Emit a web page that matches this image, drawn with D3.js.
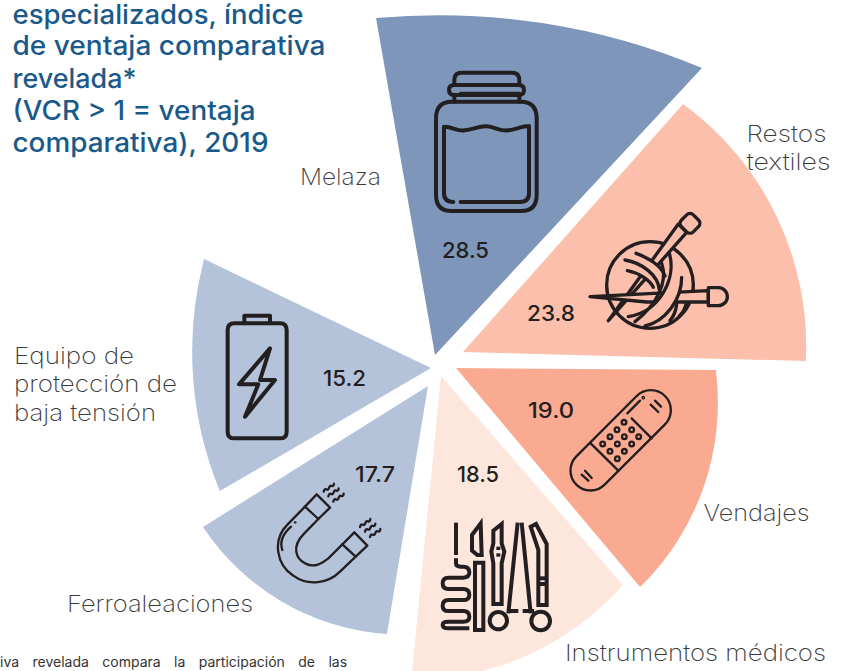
<!DOCTYPE html>
<html><head><meta charset="utf-8">
<script src="https://cdnjs.cloudflare.com/ajax/libs/d3/7.8.5/d3.min.js"></script>
<style>html,body{margin:0;padding:0;background:#fff;overflow:hidden}svg{display:block}text{font-family:Inter,"Open Sans",sans-serif}</style>
</head><body><svg id="c" width="843" height="671"></svg>
<script>
// ---- data ----
const categories = ["Melaza","Restos\ntextiles","Vendajes","Instrumentos médicos","Ferroaleaciones","Equipo de\nprotección de\nbaja tensión"];
const values = [28.5,23.8,19.0,18.5,17.7,15.2];
const titleLines = ["especializados, índice","de ventaja comparativa","revelada*","(VCR > 1 = ventaja","comparativa), 2019"];
const footnote = "iva revelada compara la participación de las";
const colors = ["#7d96ba","#fbbfab","#f9aa91","#fde6dc","#b4c2da","#b4c2da"];

// ---- layout (not data) ----
const apex = [[435,355],[463,352],[456,368],[441,376],[428,386],[431,368]];
const bearings = [[-9.93,42.93],[41.6,91.5],[90.44,139.97],[138.95,185.6],[189.4,237.93],[239.76,295.65]];
const edgeK = [[1.0,1.146],[1.161,1.201],[1.14,1.255],[1.248,1.374],[1.184,1.25],[1.34,1.38]];
const bendR = [680,300,258,280,240,365];
const labelPos = [[[300,185,81]],[[746.5,142,80],[746.5,170,84]],[[703.5,521,106]],[[565,661,261]],[[67,612,186]],[[14,364,120],[14,392,163],[14,421,142]]];
const valuePos = [[465.5,258],[551,321],[551,418],[478,482],[375,482],[344.5,386]];
const valueW = [47,48,46,42,40,43];

const svg = d3.select("#c");
const r = d3.scaleLinear().domain([0,28.5]).range([0,342]);
const rad = d3.scaleLinear().domain([0,180]).range([0,Math.PI]);

function wedge(i){
  const [ax,ay]=apex[i], R=r(values[i]);
  const pt=(b,d)=>[ax+Math.sin(rad(b))*d, ay-Math.cos(rad(b))*d];
  const p1=pt(bearings[i][0],R*edgeK[i][0]), p2=pt(bearings[i][1],R*edgeK[i][1]);
  const B=bendR[i];
  const mx=(p1[0]+p2[0])/2,my=(p1[1]+p2[1])/2,dx=p2[0]-p1[0],dy=p2[1]-p1[1],c=Math.hypot(dx,dy);
  const h=Math.sqrt(B*B-c*c/4);
  const cx=mx-dy/c*h, cy=my+dx/c*h;
  const a0=Math.atan2(p1[1]-cy,p1[0]-cx), a1=Math.atan2(p2[1]-cy,p2[0]-cx);
  const p=d3.path();
  p.moveTo(ax,ay); p.lineTo(p1[0],p1[1]); p.arc(cx,cy,B,a0,a1,false); p.closePath();
  return p.toString();
}
svg.append("g").selectAll("path").data(values).join("path")
  .attr("d",(d,i)=>wedge(i)).attr("fill",(d,i)=>colors[i]);

// title
const titleY=[23.5,55,87.5,120,151.5], titleW=[291,313,124,243,256];
svg.append("g").selectAll("text").data(titleLines).join("text")
  .attr("x",12.5).attr("y",(d,i)=>titleY[i]).attr("textLength",(d,i)=>titleW[i]).attr("lengthAdjust","spacingAndGlyphs")
  .attr("font-size",26.5).attr("font-weight",550).attr("fill","#1a5a8a").text(d=>d);

// category labels
categories.forEach((c,i)=>{
  c.split("\n").forEach((ln,j)=>{
    const [x,y,w]=labelPos[i][j];
    svg.append("text").attr("x",x).attr("y",y).attr("textLength",w).attr("lengthAdjust","spacingAndGlyphs")
      .attr("font-size",23).attr("font-weight",200).attr("fill","#3a3a3a").text(ln);
  });
});
// values
svg.append("g").selectAll("text").data(values).join("text")
  .attr("x",(d,i)=>valuePos[i][0]-valueW[i]/2).attr("y",(d,i)=>valuePos[i][1])
  .attr("textLength",(d,i)=>valueW[i]).attr("lengthAdjust","spacingAndGlyphs")
  .attr("font-size",21.5).attr("font-weight",500).attr("fill","#231f20").text(d=>d3.format(".1f")(d));
// footnote
svg.append("text").attr("x",0).attr("y",667).attr("font-size",14).attr("font-weight",400)
  .attr("word-spacing",9.5).attr("fill","#333").text(footnote);

// ---- icons (drawn at 3x, scaled down) ----
const ink="#231f20";
function icon(x,y,sw){return svg.append("g").attr("transform",`translate(${x},${y}) scale(${1/3})`)
  .attr("fill","none").attr("stroke",ink).attr("stroke-width",sw).attr("stroke-linecap","round").attr("stroke-linejoin","round");}
function paths(g,list){list.forEach(d=>g.append("path").attr("d",d));}

// jar
let g=icon(420,50,12);
paths(g,[
 "M103,105 V90 Q103,68 125,68 H275 Q298,68 298,90 V105",
 "M103,105 H296 Q312,105 312,120 Q312,135 296,135 H102 Q87,135 87,120 Q87,105 103,105Z",
 "M122,131 H298","M103,135 V155","M298,135 V155",
 "M95,155 H303 Q350,155 350,205 V435 Q350,483 303,483 H95 Q48,483 48,435 V205 Q48,155 95,155Z",
 "M100,456 Q72,456 72,430 V230 C100,230 110,245 135,241 C160,238 175,228 200,229 C225,230 240,245 265,241 C290,238 305,228 327,228 V430 Q327,456 300,456 H122"
]);

// yarn
g=icon(570,200,10);
const bgY=colors[1];
g.append("circle").attr("cx",240).attr("cy",255).attr("r",130);
g.append("path").attr("d","M115,362 L325,72 L350,97 Z").attr("fill",bgY);
g.append("rect").attr("x",335).attr("y",45).attr("width",50).attr("height",50).attr("rx",14).attr("transform","rotate(45 360 70)").attr("fill",bgY);
g.append("path").attr("d","M60,290 L415,272 V306 H230 Z").attr("fill",bgY);
g.append("path").attr("d","M415,263 H445 A27,27 0 0 1 445,317 H415 Z").attr("fill",bgY);
// filled yarn bands hide the needles where they pass behind
g.append("path").attr("stroke","none").attr("fill",bgY).attr("d","M165,180 C215,188 265,225 268,270 L290,232 C275,200 240,175 198,160 Z");
g.append("path").attr("stroke","none").attr("fill",bgY).attr("d","M172,212 C205,218 240,240 250,265 L268,270 C265,225 215,188 165,180 Z");
g.append("path").attr("stroke","none").attr("fill",bgY).attr("d","M298,160 C320,235 270,335 175,350 L225,378 C285,365 335,300 335,232 Z");
paths(g,[
 "M198,160 C240,175 275,200 285,228",
 "M165,180 C215,188 265,225 268,270",
 "M172,212 C205,218 240,240 250,262",
 "M298,160 C320,235 270,335 175,350",
 "M275,190 C295,245 260,315 195,365",
 "M335,232 C335,300 285,365 225,378",
 "M320,312 C318,335 310,350 300,362",
 "M348,312 C345,325 338,338 328,348",
]);

// bandage
g=icon(550,380,7);
g.append("rect").attr("x",212-188).attr("y",181-60).attr("width",376).attr("height",120).attr("rx",60).attr("transform","rotate(-45 212 181)");
paths(g,["M122,190 L205,272","M245,115 L305,175","M232,100 L270,62","M302,74 L325,96","M315,62 L333,80","M95,284 L115,302","M105,272 L125,294"]);
[[222,127],[201,149],[245,149],[180,170],[223,170],[266,170],[158,192],[202,192],[245,192],[180,214],[223,214],[202,236]]
 .forEach(q=>g.append("circle").attr("cx",q[0]).attr("cy",q[1]).attr("r",7));
g.append("circle").attr("cx",280).attr("cy",53).attr("r",2);

// tools
g=icon(430,510,12).attr("stroke-linecap","butt").attr("stroke-linejoin","miter");
paths(g,[
 "M78,38 V135",
 "M78,145 V160 Q78,170 92,170 H100 Q118,170 118,187 Q118,203 100,203 H55 Q38,203 38,220 Q38,237 55,237 H100 Q118,237 118,254 Q118,270 100,270 H55 Q38,270 38,287 Q38,303 55,303 H100 Q118,303 118,320 Q118,335 100,335 H55 Q38,335 38,345 Q38,355 55,355 H118",
 "M152,40 L126,75 V122 L142,135 H155 Z",
 "M135,158 H160 V360 H135 Z",
 "M215,42 L190,62 V100 L184,125 L190,160 V282 H215 V160 L223,125 L215,100 Z",
 "M205,110 V120","M205,130 V140",
 "M263,38 L235,310","M275,38 L302,310","M232,303 H265","M278,303 H312",
 "M302,50 L318,42 L350,102 V285 H325 V120 Z","M325,205 H350","M325,222 H350"
]);
g.append("circle").attr("cx",205).attr("cy",332).attr("r",26);
g.append("circle").attr("cx",332).attr("cy",333).attr("r",28);

// magnet
g=icon(265,475,7);
paths(g,[
 "M120,95 L155,58 L195,98 L160,132 Z",
 "M232,208 L268,172 L307,212 L272,245 Z",
 "M120,95 L68,148 C20,195 35,270 85,302 C130,335 190,325 225,290 L272,245",
 "M160,132 L115,178 C80,215 92,250 120,265 C150,280 170,265 190,250 L232,208",
 "M78,155 C50,180 45,205 52,225",
 "M90,142 L91,142"
]);
const wave=(x,y)=>`M${x},${y} q3,-10 8,-7 q6,3 8,-5 q3,-8 8,-5 q6,2 7,-7`;
[[176,50],[190,64],[205,80],[285,156],[300,170],[315,186]].forEach(q=>g.append("path").attr("d",wave(q[0],q[1])));

// battery
g=icon(215,305,12);
paths(g,[
 "M88,55 V32 H165 V55",
 "M58,55 H195 Q215,55 215,75 V380 Q215,400 195,400 H58 Q38,400 38,380 V75 Q38,55 58,55Z",
 "M165,130 L72,238 H130 L90,335 L180,225 H135 Z"
]);
</script></body></html>
